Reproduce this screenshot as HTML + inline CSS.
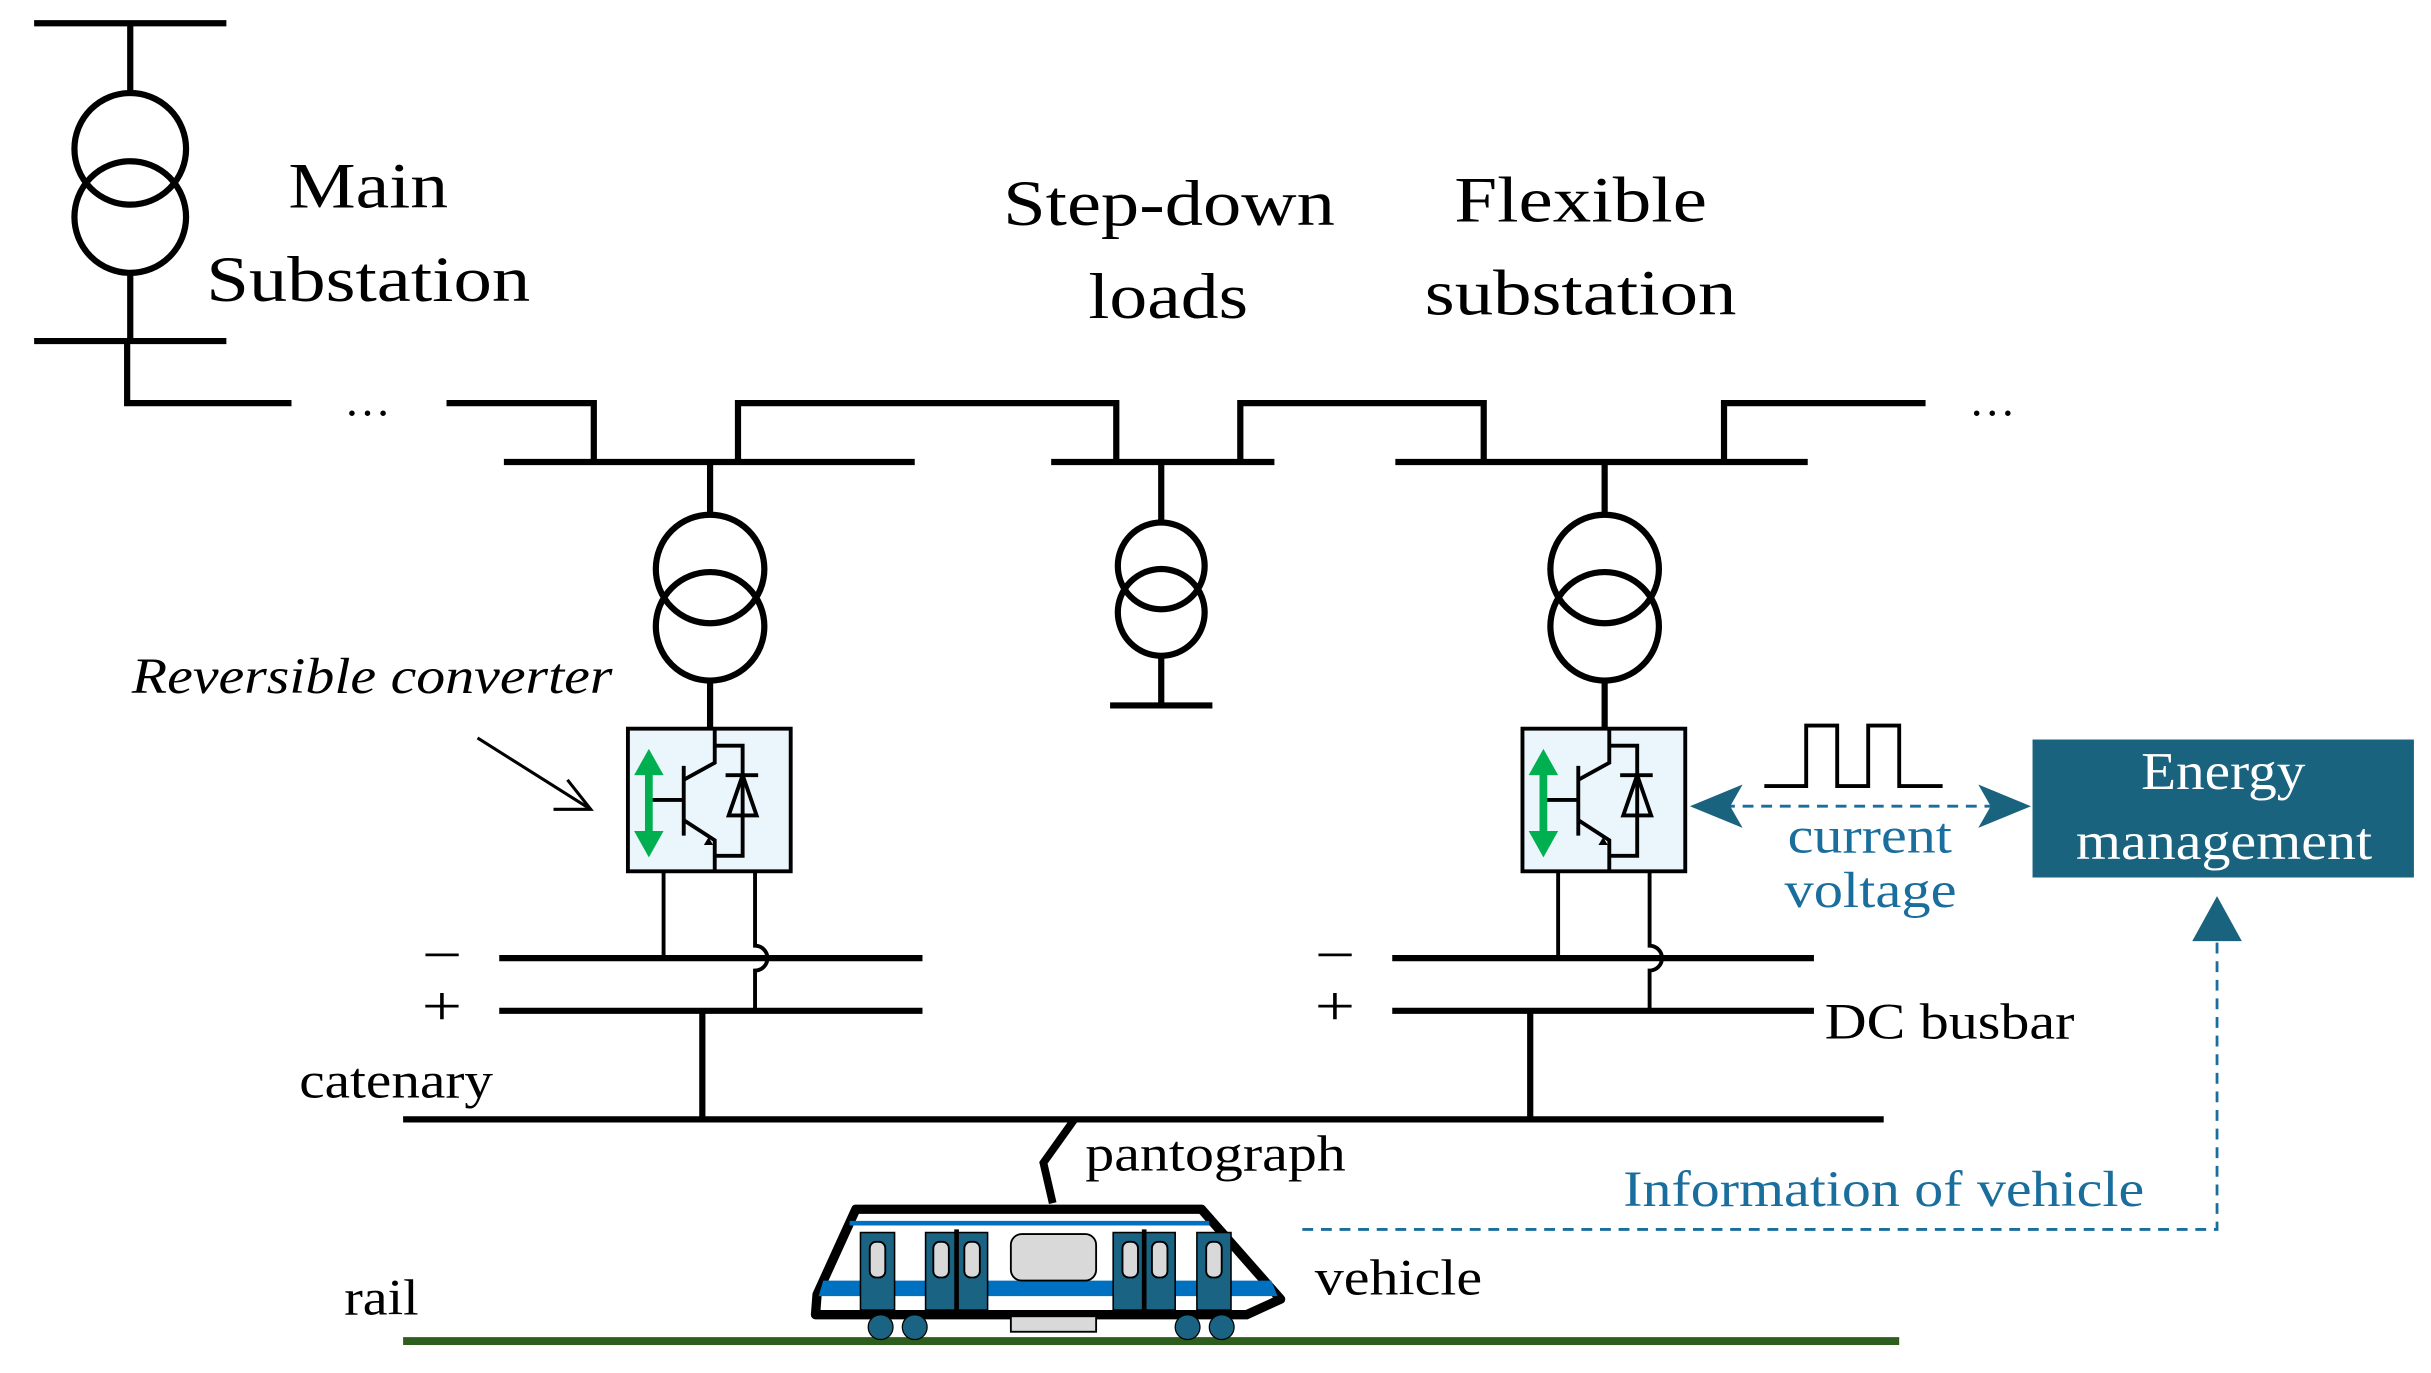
<!DOCTYPE html>
<html><head><style>
html,body{margin:0;padding:0;background:#fff;}
svg{display:block;}
text{font-family:"Liberation Serif",serif;}
</style></head><body>
<svg width="2431" height="1373" viewBox="0 0 1568 885.6" xmlns="http://www.w3.org/2000/svg">
<g stroke="#000" fill="none" stroke-width="4">
<line x1="22" y1="15" x2="146" y2="15"/>
<line x1="84" y1="15" x2="84" y2="60"/>
<circle cx="84" cy="96" r="36"/>
<circle cx="84" cy="140" r="36"/>
<line x1="84" y1="176" x2="84" y2="220"/>
<line x1="22" y1="220" x2="146" y2="220"/>
<polyline points="82,220 82,260 188,260"/>
<polyline points="288,260 383,260 383,298"/>
<line x1="325" y1="298" x2="590" y2="298"/>
<polyline points="476,298 476,260 720,260 720,298"/>
<line x1="678" y1="298" x2="822" y2="298"/>
<polyline points="800,298 800,260 957,260 957,298"/>
<line x1="900" y1="298" x2="1166" y2="298"/>
<polyline points="1112,298 1112,260 1242,260"/>
<line x1="458" y1="298" x2="458" y2="332"/>
<circle cx="458" cy="367" r="35"/><circle cx="458" cy="404" r="35"/>
<line x1="458" y1="439" x2="458" y2="470"/>
<line x1="749" y1="298" x2="749" y2="337"/>
<circle cx="749" cy="365" r="28"/><circle cx="749" cy="395" r="28"/>
<line x1="749" y1="423" x2="749" y2="455"/>
<line x1="716" y1="455" x2="782" y2="455"/>
<line x1="1035" y1="298" x2="1035" y2="332"/>
<circle cx="1035" cy="367" r="35"/><circle cx="1035" cy="404" r="35"/>
<line x1="1035" y1="439" x2="1035" y2="470"/>
<line x1="322" y1="618" x2="595" y2="618"/>
<line x1="322" y1="652" x2="595" y2="652"/>
<line x1="898" y1="618" x2="1170" y2="618"/>
<line x1="898" y1="652" x2="1170" y2="652"/>
<line x1="453" y1="652" x2="453" y2="722"/>
<line x1="987" y1="652" x2="987" y2="722"/>
<line x1="260" y1="722" x2="1215" y2="722"/>
<polyline points="693,722 673,750 679,776" stroke-width="5"/>
</g>
<line x1="260" y1="865" x2="1225" y2="865" stroke="#2e5e1e" stroke-width="5"/>
<g id="conv">
<rect x="405" y="470" width="105" height="92" fill="#eaf6fc" stroke="#000" stroke-width="2.5"/>
<g stroke="#000" stroke-width="2.5" fill="none">
<line x1="441" y1="494" x2="441" y2="539"/>
<line x1="420" y1="516" x2="441" y2="516"/>
<polyline points="441,503 461,492 461,470"/>
<polyline points="441,529 461,542 461,562"/>
<polyline points="461,481 479,481 479,552 461,552"/>
<line x1="468" y1="500" x2="489" y2="500"/>
<polygon points="479,500 470,526 488,526"/>
<line x1="428" y1="562" x2="428" y2="618"/>
<path d="M487,562 V610 a8,8 0 0 1 0,16 V652"/>
</g>
<polygon points="457,540 460,545 454,545" fill="#000"/>
<g fill="#00b050">
<rect x="416" y="494" width="5" height="46"/>
<polygon points="418.5,483 409,500 428,500"/>
<polygon points="418.5,553 409,536 428,536"/>
</g>
</g>
<use href="#conv" transform="translate(577,0)"/>
<line x1="308" y1="476" x2="381" y2="522" stroke="#000" stroke-width="2"/>
<polyline points="366,503 381,522 357,522" stroke="#000" stroke-width="2" fill="none"/>
<polyline points="1138,507 1165,507 1165,468 1185,468 1185,507 1205,507 1205,468 1225,468 1225,507 1253,507" stroke="#000" stroke-width="2.5" fill="none"/>
<g stroke="#1a6e9e" stroke-width="1.8" stroke-dasharray="7,5" fill="none">
<line x1="1112" y1="520" x2="1290" y2="520"/>
<polyline points="840,793 1430,793 1430,606"/>
</g>
<g fill="#1a637f">
<polygon points="1090,520 1124,506 1116,520 1124,534"/>
<polygon points="1310,520 1276,506 1284,520 1276,534"/>
<polygon points="1430,578 1414,607 1446,607"/>
</g>
<rect x="1311" y="477" width="246" height="89" fill="#1a637f"/>
<g>
<path d="M552,780 L775,780 L826,838 L804,848 L526,848 L527,835 Z" fill="#fff" stroke="#000" stroke-width="6" stroke-linejoin="round"/>
<line x1="548" y1="789" x2="780" y2="789" stroke="#0070c0" stroke-width="3"/>
<polygon points="531,826 820,826 824,836 528,836" fill="#0070c0"/>
<g fill="#1a6383" stroke="#000" stroke-width="1">
<rect x="555" y="795" width="22" height="50"/>
<rect x="597" y="795" width="40" height="50"/>
<rect x="718" y="795" width="40" height="50"/>
<rect x="772" y="795" width="22" height="50"/>
</g>
<g stroke="#000" stroke-width="3"><line x1="617" y1="793" x2="617" y2="846"/><line x1="738" y1="793" x2="738" y2="846"/></g>
<g fill="#d9d9d9" stroke="#000" stroke-width="1.2">
<rect x="561" y="801" width="10" height="23" rx="4"/>
<rect x="602" y="801" width="10" height="23" rx="4"/>
<rect x="622" y="801" width="10" height="23" rx="4"/>
<rect x="724" y="801" width="10" height="23" rx="4"/>
<rect x="743" y="801" width="10" height="23" rx="4"/>
<rect x="778" y="801" width="10" height="23" rx="4"/>
<rect x="652" y="796" width="55" height="30" rx="7"/>
<rect x="652" y="849" width="55" height="10"/>
</g>
<g fill="#1a6383" stroke="#000" stroke-width="0.8">
<circle cx="568" cy="856" r="8"/><circle cx="590" cy="856" r="8"/>
<circle cx="766" cy="856" r="8"/><circle cx="788" cy="856" r="8"/>
</g>
</g>
<g font-size="42" fill="#000" lengthAdjust="spacingAndGlyphs">
<text x="186" y="134" textLength="103" lengthAdjust="spacingAndGlyphs">Main</text>
<text x="133" y="194" textLength="209" lengthAdjust="spacingAndGlyphs">Substation</text>
<text x="647" y="145" textLength="214" lengthAdjust="spacingAndGlyphs">Step-down</text>
<text x="702" y="205" textLength="103" lengthAdjust="spacingAndGlyphs">loads</text>
<text x="938" y="143" textLength="163" lengthAdjust="spacingAndGlyphs">Flexible</text>
<text x="919" y="203" textLength="201" lengthAdjust="spacingAndGlyphs">substation</text>
</g>
<g font-size="33" fill="#000">
<text x="237" y="268" text-anchor="middle" font-size="30">…</text>
<text x="1285" y="268" text-anchor="middle" font-size="30">…</text>
<text x="85" y="447" font-style="italic" textLength="310" lengthAdjust="spacingAndGlyphs">Reversible converter</text>
<text x="272" y="628" font-size="36" textLength="26" lengthAdjust="spacingAndGlyphs">−</text>
<text x="272" y="661" font-size="36" textLength="26" lengthAdjust="spacingAndGlyphs">+</text>
<text x="848" y="628" font-size="36" textLength="26" lengthAdjust="spacingAndGlyphs">−</text>
<text x="848" y="661" font-size="36" textLength="26" lengthAdjust="spacingAndGlyphs">+</text>
<text x="193" y="708" textLength="125" lengthAdjust="spacingAndGlyphs">catenary</text>
<text x="700" y="755" textLength="168" lengthAdjust="spacingAndGlyphs">pantograph</text>
<text x="848" y="835" textLength="108" lengthAdjust="spacingAndGlyphs">vehicle</text>
<text x="222" y="848" textLength="48" lengthAdjust="spacingAndGlyphs">rail</text>
<text x="1177" y="670" textLength="161" lengthAdjust="spacingAndGlyphs">DC busbar</text>
</g>
<g font-size="33" fill="#1a6e9e">
<text x="1047" y="778" textLength="336" lengthAdjust="spacingAndGlyphs">Information of vehicle</text>
<text x="1153" y="550" textLength="106" lengthAdjust="spacingAndGlyphs">current</text>
<text x="1151" y="585" textLength="111" lengthAdjust="spacingAndGlyphs">voltage</text>
</g>
<g font-size="34" fill="#fff">
<text x="1381" y="509" textLength="106" lengthAdjust="spacingAndGlyphs">Energy</text>
<text x="1339" y="554" textLength="191" lengthAdjust="spacingAndGlyphs">management</text>
</g>
</svg>
</body></html>
